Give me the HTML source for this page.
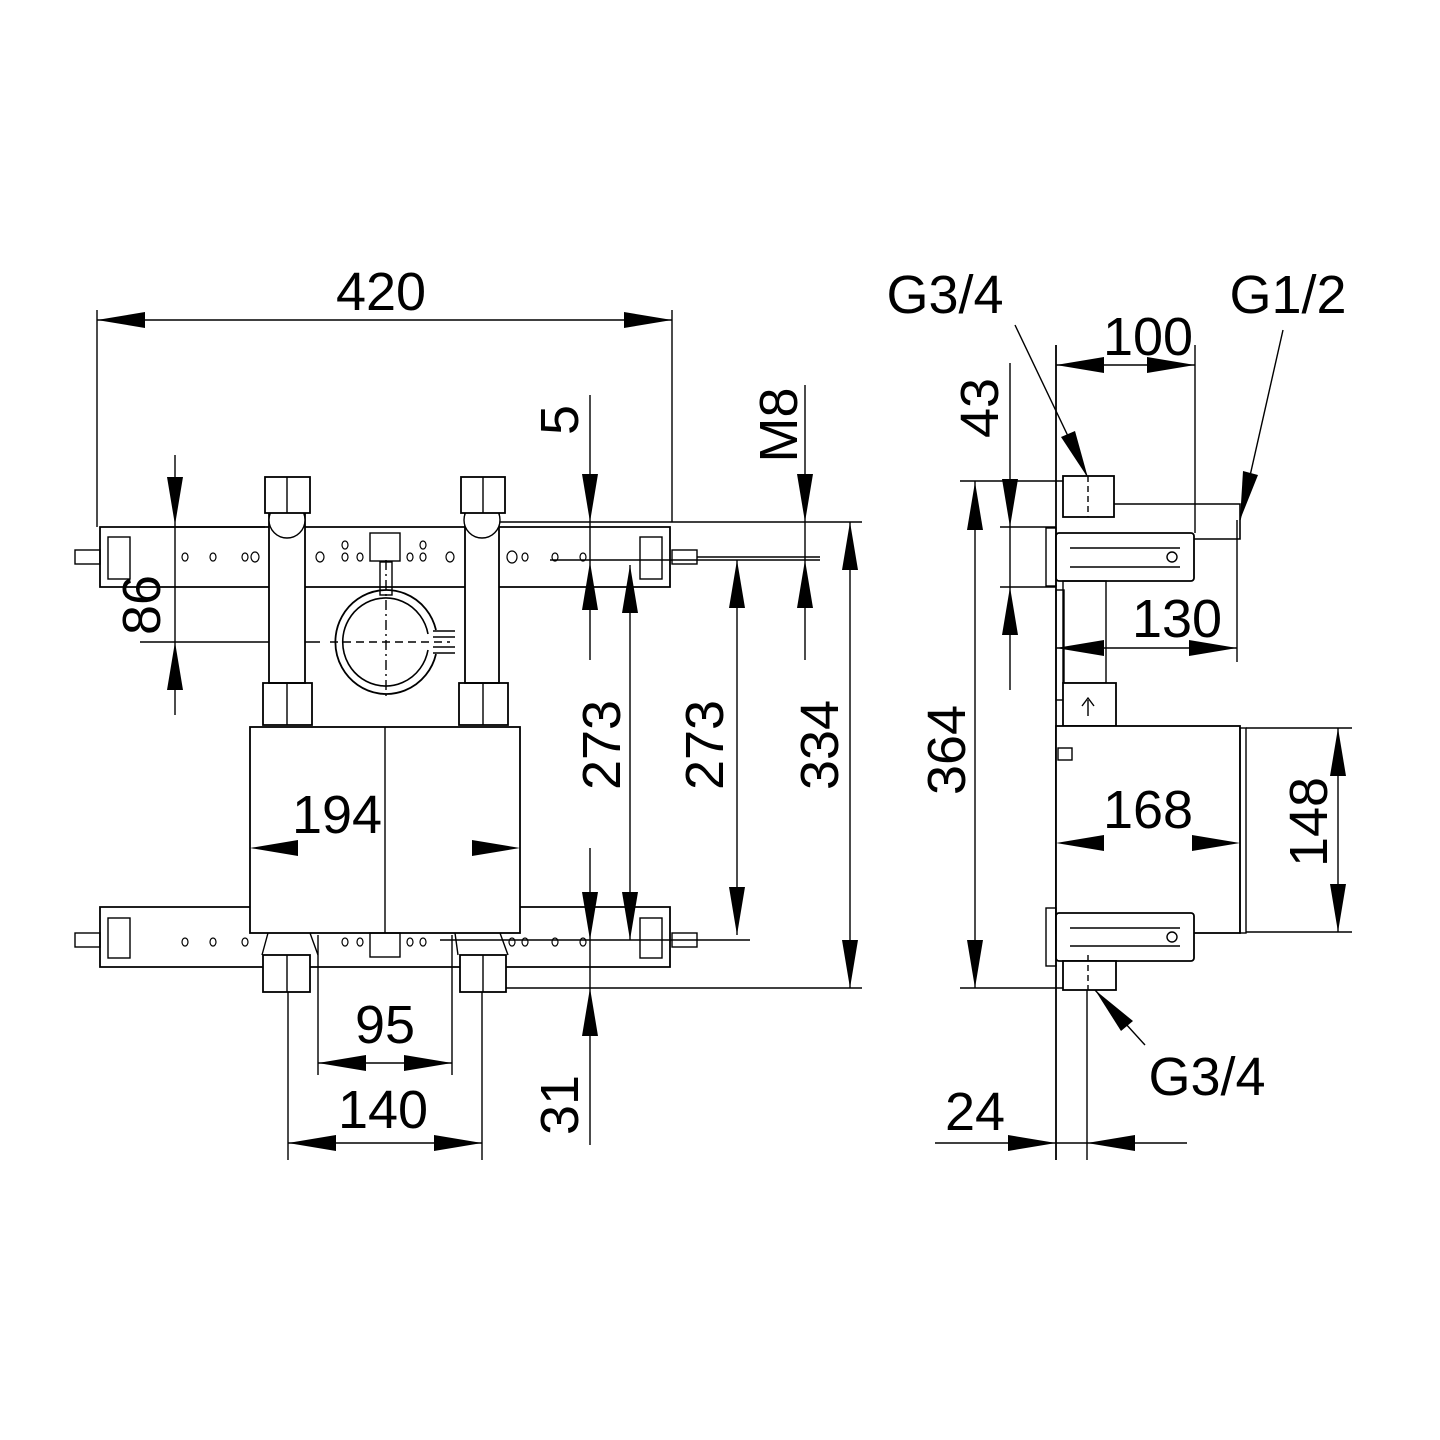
<!DOCTYPE html>
<html><head><style>html,body{margin:0;padding:0;background:#fff}svg{display:block}</style></head>
<body>
<svg width="1440" height="1440" viewBox="0 0 1440 1440" xmlns="http://www.w3.org/2000/svg">
<rect width="1440" height="1440" fill="#fff"/>
<g fill="none" stroke="#000" stroke-width="1.4">
<line x1="97" y1="310" x2="97" y2="527"/>
<line x1="672" y1="310" x2="672" y2="522"/>
<line x1="97" y1="320" x2="672" y2="320"/>
<line x1="175" y1="455" x2="175" y2="715"/>
<line x1="140" y1="527" x2="265" y2="527"/>
<line x1="140" y1="642" x2="320" y2="642"/>
<line x1="590" y1="395" x2="590" y2="660"/>
<line x1="805" y1="385" x2="805" y2="660"/>
<line x1="630" y1="565" x2="630" y2="940"/>
<line x1="737" y1="560" x2="737" y2="935"/>
<line x1="850" y1="522" x2="850" y2="988"/>
<line x1="590" y1="848" x2="590" y2="1145"/>
<line x1="470" y1="522" x2="862" y2="522"/>
<line x1="550" y1="560" x2="820" y2="560"/>
<line x1="440" y1="940" x2="750" y2="940"/>
<line x1="500" y1="988" x2="862" y2="988"/>
<line x1="250" y1="848" x2="520" y2="848"/>
<line x1="318" y1="935" x2="318" y2="1075"/>
<line x1="452" y1="935" x2="452" y2="1075"/>
<line x1="318" y1="1063" x2="452" y2="1063"/>
<line x1="288" y1="985" x2="288" y2="1160"/>
<line x1="482" y1="985" x2="482" y2="1160"/>
<line x1="288" y1="1143" x2="482" y2="1143"/>
<path d="M100 527 H670 V587 H100 Z" stroke-width="1.8"/>
<rect x="108" y="537" width="22" height="42"/><rect x="75" y="550" width="25" height="14"/>
<rect x="640" y="537" width="22" height="42"/><rect x="672" y="550" width="25" height="14"/>
<line x1="697" y1="557" x2="820" y2="557"/>
<rect x="370" y="533" width="30" height="28"/>
<rect x="269" y="513" width="36" height="170" fill="#fff" stroke-width="1.8"/>
<rect x="465" y="513" width="34" height="170" fill="#fff" stroke-width="1.8"/>
<circle cx="287" cy="520" r="18" fill="#fff"/><circle cx="482" cy="520" r="18" fill="#fff"/>
<rect x="265" y="477" width="45" height="36" fill="#fff" stroke-width="1.8"/><line x1="287" y1="477" x2="287" y2="513"/>
<rect x="461" y="477" width="44" height="36" fill="#fff" stroke-width="1.8"/><line x1="483" y1="477" x2="483" y2="513"/>
<rect x="263" y="683" width="49" height="42" stroke-width="1.8"/><line x1="287" y1="683" x2="287" y2="725"/>
<rect x="459" y="683" width="49" height="42" stroke-width="1.8"/><line x1="483" y1="683" x2="483" y2="725"/>
<rect x="380" y="562" width="12" height="33"/>
<path d="M436 630 A51 52 0 1 0 436 654" stroke-width="1.8"/>
<path d="M428 634 A43 44 0 1 0 428 650" stroke-width="1.6"/>
<path d="M433 631 H455 M433 637 H455 M433 647 H455 M433 653 H455"/>
<line x1="330" y1="642" x2="450" y2="642" stroke-dasharray="8 5"/>
<line x1="386" y1="560" x2="386" y2="700" stroke-dasharray="10 4 2 4"/>
<path d="M100 907 H670 V967 H100 Z" stroke-width="1.8"/>
<rect x="108" y="918" width="22" height="40"/><rect x="75" y="933" width="25" height="14"/>
<rect x="640" y="918" width="22" height="40"/><rect x="672" y="933" width="25" height="14"/>
<rect x="250" y="727" width="270" height="206" fill="#fff" stroke-width="1.8"/>
<line x1="385" y1="727" x2="385" y2="933"/>
<rect x="263" y="955" width="47" height="37" fill="#fff" stroke-width="1.8"/><line x1="287" y1="955" x2="287" y2="992"/>
<rect x="460" y="955" width="46" height="37" fill="#fff" stroke-width="1.8"/><line x1="483" y1="955" x2="483" y2="992"/>
<path d="M268 933 L262 955 M310 933 L318 955 M455 933 L458 955 M500 933 L508 955"/>
<rect x="370" y="933" width="30" height="24"/>
<g stroke-width="1.2">
<ellipse cx="185" cy="557" rx="3" ry="4"/><ellipse cx="213" cy="557" rx="3" ry="4"/><ellipse cx="245" cy="557" rx="3" ry="4"/><ellipse cx="255" cy="557" rx="4" ry="5"/>
<ellipse cx="320" cy="557" rx="4" ry="5"/><ellipse cx="345" cy="557" rx="3" ry="4"/><ellipse cx="360" cy="557" rx="3" ry="4"/><ellipse cx="345" cy="545" rx="3" ry="4"/>
<ellipse cx="410" cy="557" rx="3" ry="4"/><ellipse cx="423" cy="557" rx="3" ry="4"/><ellipse cx="423" cy="545" rx="3" ry="4"/>
<ellipse cx="450" cy="557" rx="4" ry="5"/><ellipse cx="512" cy="557" rx="5" ry="6"/><ellipse cx="525" cy="557" rx="3" ry="4"/><ellipse cx="555" cy="557" rx="3" ry="4"/><ellipse cx="583" cy="557" rx="3" ry="4"/>
<ellipse cx="185" cy="942" rx="3" ry="4"/><ellipse cx="213" cy="942" rx="3" ry="4"/><ellipse cx="245" cy="942" rx="3" ry="4"/>
<ellipse cx="345" cy="942" rx="3" ry="4"/><ellipse cx="360" cy="942" rx="3" ry="4"/><ellipse cx="410" cy="942" rx="3" ry="4"/><ellipse cx="423" cy="942" rx="3" ry="4"/>
<ellipse cx="512" cy="942" rx="3" ry="4"/><ellipse cx="525" cy="942" rx="3" ry="4"/><ellipse cx="555" cy="942" rx="3" ry="4"/><ellipse cx="583" cy="942" rx="3" ry="4"/>
</g>
<line x1="1056" y1="345" x2="1056" y2="1160" stroke-width="1.8"/>
<line x1="1087" y1="990" x2="1087" y2="1160"/>
<line x1="1195" y1="345" x2="1195" y2="533"/>
<line x1="1056" y1="365" x2="1195" y2="365"/>
<line x1="1237" y1="520" x2="1237" y2="662"/>
<line x1="1056" y1="648" x2="1237" y2="648"/>
<line x1="1056" y1="843" x2="1240" y2="843"/>
<line x1="1010" y1="363" x2="1010" y2="690"/>
<line x1="960" y1="481" x2="1063" y2="481"/>
<line x1="1000" y1="527" x2="1056" y2="527"/>
<line x1="1000" y1="587" x2="1056" y2="587"/>
<line x1="975" y1="481" x2="975" y2="988"/>
<line x1="960" y1="988" x2="1063" y2="988"/>
<line x1="1246" y1="728" x2="1352" y2="728"/>
<line x1="1246" y1="932" x2="1352" y2="932"/>
<line x1="1338" y1="728" x2="1338" y2="932"/>
<line x1="935" y1="1143" x2="1187" y2="1143"/>
<line x1="1015" y1="325" x2="1088" y2="478"/>
<line x1="1283" y1="330" x2="1240" y2="520"/>
<line x1="1145" y1="1045" x2="1095" y2="990"/>
<rect x="1063" y="476" width="51" height="41" fill="#fff" stroke-width="1.8"/>
<line x1="1088" y1="476" x2="1088" y2="517" stroke-dasharray="6 4"/>
<path d="M1114 504 H1240 V539 H1110" stroke-width="1.6"/>
<rect x="1056" y="533" width="138" height="48" rx="3" fill="#fff" stroke-width="1.8"/>
<path d="M1070 548 H1180 M1070 567 H1180"/>
<circle cx="1172" cy="557" r="5"/>
<rect x="1046" y="528" width="10" height="58"/>
<rect x="1063" y="581" width="43" height="102"/>
<rect x="1056" y="590" width="8" height="110"/>
<rect x="1063" y="683" width="53" height="43" fill="#fff" stroke-width="1.8"/>
<path d="M1088 716 V700 M1082 706 L1088 698 L1094 706"/>
<rect x="1056" y="726" width="184" height="207" fill="#fff" stroke-width="1.8"/>
<rect x="1240" y="728" width="6" height="205"/>
<rect x="1058" y="748" width="14" height="12"/>
<rect x="1056" y="913" width="138" height="48" rx="3" fill="#fff" stroke-width="1.8"/>
<path d="M1070 928 H1180 M1070 946 H1180"/>
<circle cx="1172" cy="937" r="5"/>
<rect x="1046" y="908" width="10" height="58"/>
<rect x="1063" y="961" width="53" height="29" fill="#fff" stroke-width="1.8"/>
<line x1="1088" y1="955" x2="1088" y2="990" stroke-dasharray="6 4"/>
</g>
<g fill="#000">
<polygon points="97,320 145,312 145,328"/><polygon points="672,320 624,312 624,328"/>
<polygon points="167,477 183,477 175,525"/><polygon points="175,642 167,690 183,690"/>
<polygon points="582,474 598,474 590,522"/><polygon points="590,562 582,610 598,610"/>
<polygon points="630,565 622,613 638,613"/><polygon points="622,892 638,892 630,940"/>
<polygon points="737,560 729,608 745,608"/><polygon points="729,887 745,887 737,935"/>
<polygon points="850,522 842,570 858,570"/><polygon points="842,940 858,940 850,988"/>
<polygon points="797,474 813,474 805,522"/><polygon points="805,560 797,608 813,608"/>
<polygon points="582,892 598,892 590,940"/><polygon points="590,988 582,1036 598,1036"/>
<polygon points="250,848 298,840 298,856"/><polygon points="520,848 472,840 472,856"/>
<polygon points="318,1063 366,1055 366,1071"/><polygon points="452,1063 404,1055 404,1071"/>
<polygon points="288,1143 336,1135 336,1151"/><polygon points="482,1143 434,1135 434,1151"/>
<polygon points="1056,365 1104,357 1104,373"/><polygon points="1195,365 1147,357 1147,373"/>
<polygon points="1002,479 1018,479 1010,527"/><polygon points="1010,587 1002,635 1018,635"/>
<polygon points="975,482 967,530 983,530"/><polygon points="967,940 983,940 975,988"/>
<polygon points="1056,648 1104,640 1104,656"/><polygon points="1237,648 1189,640 1189,656"/>
<polygon points="1056,843 1104,835 1104,851"/><polygon points="1240,843 1192,835 1192,851"/>
<polygon points="1338,728 1330,776 1346,776"/><polygon points="1330,884 1346,884 1338,932"/>
<polygon points="1056,1143 1008,1135 1008,1151"/><polygon points="1087,1143 1135,1135 1135,1151"/>
<polygon points="1088,478 1075,431 1061,437"/>
<polygon points="1240,520 1258,475 1243,471"/>
<polygon points="1095,990 1133,1021 1121,1031"/>
</g>
<g font-family="Liberation Sans, Arial, sans-serif" font-size="54" fill="#000" text-anchor="middle">
<text x="381" y="310">420</text>
<text x="337" y="833">194</text>
<text x="385" y="1043">95</text>
<text x="383" y="1128">140</text>
<text x="1148" y="355">100</text>
<text x="1177" y="637">130</text>
<text x="1148" y="828">168</text>
<text x="975" y="1130">24</text>
<text x="945" y="313">G3/4</text>
<text x="1288" y="313">G1/2</text>
<text x="1207" y="1095">G3/4</text>
<text transform="translate(160,605) rotate(-90)">86</text>
<text transform="translate(578,420) rotate(-90)">5</text>
<text transform="translate(797,425) rotate(-90)">M8</text>
<text transform="translate(620,745) rotate(-90)">273</text>
<text transform="translate(723,745) rotate(-90)">273</text>
<text transform="translate(838,745) rotate(-90)">334</text>
<text transform="translate(578,1105) rotate(-90)">31</text>
<text transform="translate(965,750) rotate(-90)">364</text>
<text transform="translate(998,408) rotate(-90)">43</text>
<text transform="translate(1327,822) rotate(-90)">148</text>
</g>
</svg>
</body></html>
